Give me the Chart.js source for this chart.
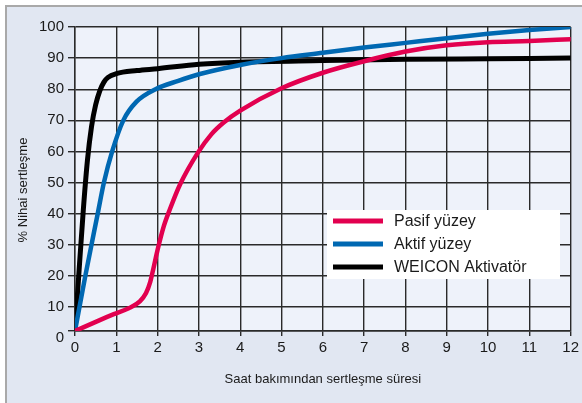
<!DOCTYPE html>
<html>
<head>
<meta charset="utf-8">
<script src="https://cdn.jsdelivr.net/npm/chart.js@4.4.1/dist/chart.umd.min.js"></script>
<style>
  html, body { margin: 0; padding: 0; background: #fff; }
  #wrap { position: relative; width: 582px; height: 403px; overflow: hidden; }
  #frame {
    position: absolute; left: 5px; top: 5px; right: -10px; bottom: -10px;
    background: #e1e7f2;
    border-left: 2px solid #a9a9a9; border-top: 2px solid #a9a9a9;
  }
  #curing { position: absolute; left: 0; top: 0; }
</style>
</head>
<body>
<div id="wrap">
  <div id="frame"></div>
  <canvas id="curing" width="582" height="403"></canvas>
</div>
<script>
// curing curves: % of final strength vs. hours
const seriesNames = ['Pasif yüzey', 'Aktif yüzey', 'WEICON Aktivatör'];

const pasifX = [0, 0.6, 0.94, 1.3, 1.57, 1.72, 1.82, 1.9, 2, 2.15, 2.3, 2.54, 2.98, 3.3, 3.6, 4, 5, 6, 7, 8, 9, 10, 11, 12];
const pasifY = [2.3, 5.8, 7.7, 9.6, 11.8, 14.5, 18, 22.5, 28.4, 36, 41.5, 49.3, 59.7, 65.5, 69.3, 73.1, 80.3, 85.3, 89, 92.1, 94.1, 95.1, 95.5, 96.1];

const aktifX = [0, 0.25, 0.55, 0.7, 0.9, 1.17, 1.49, 1.95, 2.5, 3, 4, 5, 6, 7, 8, 9, 10, 11, 12];
const aktifY = [2.3, 20, 40, 50, 60, 70, 76, 80, 82.7, 84.8, 87.8, 90, 91.7, 93.4, 94.9, 96.4, 97.8, 99, 100];

const weiconX = [0, 0.1, 0.2, 0.3, 0.4, 0.5, 0.6, 0.7, 0.8, 1, 1.5, 2, 3, 4, 6, 8, 10, 12];
const weiconY = [2.3, 22, 41, 57, 68, 75, 79.5, 82.3, 83.8, 85, 86, 86.6, 88, 88.7, 89.2, 89.6, 89.8, 90];

const hourTicks = [0, 1, 2, 3, 4, 5, 6, 7, 8, 9, 10, 11, 12];
const pctTicks = [2.3, 10, 20, 30, 40, 50, 60, 70, 80, 90, 100];
const pctLabels = ['0', '10', '20', '30', '40', '50', '60', '70', '80', '90', '100'];

const xTitle = 'Saat bakımından sertleşme süresi';
const yTitle = '% Nihai sertleşme';

const colors = ['#e2004f', '#0068b2', '#000000'];
const FONT = '"Liberation Sans", Arial, Helvetica, sans-serif';

function pts(xs, ys) {
  return xs.map((x, i) => ({ x: x, y: ys[i] }));
}

const plotBg = {
  id: 'plotBg',
  beforeDraw(chart) {
    const a = chart.chartArea, ctx = chart.ctx;
    ctx.save();
    ctx.fillStyle = '#eef2fa';
    ctx.fillRect(a.left, a.top, a.right - a.left, a.bottom - a.top);
    ctx.restore();
  }
};

// y title and the boxed legend inside the plot
const overlay = {
  id: 'overlay',
  afterDraw(chart) {
    const ctx = chart.ctx, a = chart.chartArea;
    ctx.save();
    ctx.fillStyle = '#1a1a1a';
    ctx.font = '13px ' + FONT;
    ctx.textAlign = 'center';
    ctx.textBaseline = 'middle';
    ctx.translate(23, a.top + 163);
    ctx.rotate(-Math.PI / 2);
    ctx.fillText(yTitle, 0, 0);
    ctx.restore();

    const bx = a.left + 252, by = a.top + 183;
    ctx.save();
    ctx.fillStyle = '#ffffff';
    ctx.fillRect(bx, by, 233, 69);
    ctx.font = '16px ' + FONT;
    ctx.textBaseline = 'middle';
    ctx.textAlign = 'left';
    chart.data.datasets.forEach((ds, i) => {
      const ly = by + 11 + i * 23;
      ctx.strokeStyle = ds.borderColor;
      ctx.lineWidth = 5;
      ctx.beginPath();
      ctx.moveTo(bx + 6, ly);
      ctx.lineTo(bx + 56, ly);
      ctx.stroke();
      ctx.fillStyle = '#1a1a1a';
      ctx.fillText(ds.label, bx + 67, ly + 1);
    });
    ctx.restore();
  }
};

const gridColor = '#2a2a2a';

new Chart(document.getElementById('curing'), {
  type: 'line',
  data: {
    datasets: [
      { label: seriesNames[0], data: pts(pasifX, pasifY), borderColor: colors[0], borderWidth: 4.5 },
      { label: seriesNames[1], data: pts(aktifX, aktifY), borderColor: colors[1], borderWidth: 4.5 },
      { label: seriesNames[2], data: pts(weiconX, weiconY), borderColor: colors[2], borderWidth: 5 }
    ]
  },
  options: {
    responsive: false,
    animation: false,
    devicePixelRatio: 1,
    elements: { point: { radius: 0 }, line: { cubicInterpolationMode: 'monotone', borderCapStyle: 'round' } },
    layout: { padding: { top: 27, right: 10, bottom: 0, left: 0 } },
    plugins: { legend: { display: false }, tooltip: { enabled: false } },
    scales: {
      x: {
        type: 'linear',
        min: 0, max: 12,
        afterBuildTicks: s => { s.ticks = hourTicks.map(v => ({ value: v })); },
        afterFit: s => { s.height = 72; },
        grid: { color: gridColor, lineWidth: 1.4, tickLength: 5 },
        border: { color: gridColor, width: 1.4 },
        ticks: { color: '#1a1a1a', font: { family: FONT, size: 15 }, padding: 3, maxRotation: 0 },
        title: { display: true, text: xTitle, color: '#1a1a1a', font: { family: FONT, size: 13 }, padding: { top: 16, bottom: 16 } }
      },
      y: {
        min: 2.3, max: 100,
        afterBuildTicks: s => { s.ticks = pctTicks.map(v => ({ value: v })); },
        afterFit: s => { s.width = 75; },
        grid: { color: gridColor, lineWidth: 1.4, tickLength: 7 },
        border: { color: gridColor, width: 1.4 },
        ticks: {
          color: '#1a1a1a',
          padding: 4,
          font: ctx => ctx.index === 0
            ? { family: FONT, size: 15, lineHeight: 0.85 }
            : { family: FONT, size: 15 },
          callback: (v, i) => i === 0 ? ['', pctLabels[i]] : pctLabels[i]
        }
      }
    }
  },
  plugins: [plotBg, overlay]
});
</script>
</body>
</html>
